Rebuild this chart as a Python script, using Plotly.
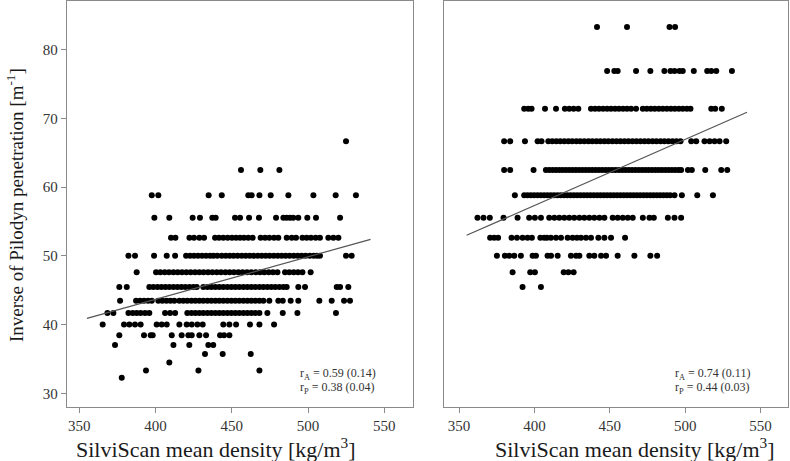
import plotly.graph_objects as go

# ---- data: inverse Pilodyn penetration levels (m^-1) ----
# Left panel rows (SilviScan density values at each level)
L_6667 = [524.9]
L_6250 = [456.0, 468.7, 481.2]
L_5882 = [397.5, 401.8, 434.8, 443.4, 460.8, 463.0, 468.1, 475.5, 487.1, 503.5, 518.1, 531.4]
L_5556 = [399.2, 409.0, 424.3, 429.1, 437.2, 439.4, 452.1, 455.4, 461.3, 467.8, 479.0, 483.8, 486.0,
          488.2, 490.3, 493.6, 499.5, 505.2, 521.0]
L_5263 = [410.1, 413.0, 422.2, 425.2, 428.7, 431.8, 439.0, 441.6, 444.4, 447.3, 450.1, 452.8, 455.4,
          458.0, 460.8, 463.7, 468.9, 471.8, 474.6, 477.7, 480.5, 486.0, 489.3, 492.1, 496.3, 499.1,
          501.9, 505.0, 507.8, 513.3, 516.6, 519.9]
L_5000 = [382.2, 386.5, 399.0, 407.3, 412.8, 420.0, 422.6, 425.2, 427.8, 430.5, 433.1, 435.7, 437.9,
          440.5, 443.4, 446.0, 448.6, 451.2, 453.8, 456.5, 459.1, 461.7, 464.3, 467.0, 469.6, 472.2,
          474.8, 477.5, 480.1, 482.7, 485.3, 487.9, 490.6, 493.2, 495.8, 498.4, 501.1, 503.7, 505.9,
          507.8, 524.9, 528.6]
L_4762 = [387.6, 400.3, 403.1, 406.0, 408.8, 411.7, 414.5, 417.3, 420.2, 423.0, 425.9, 428.7, 431.5,
          434.4, 437.2, 440.1, 442.9, 445.8, 448.6, 451.4, 454.3, 457.1, 460.0, 462.8, 465.7, 468.5,
          471.3, 474.2, 477.0, 479.9, 484.9, 487.7, 490.6, 493.4, 496.3, 501.7]
L_4545 = [376.2, 381.1, 395.9, 398.5, 401.2, 403.8, 406.4, 409.0, 411.7, 414.3, 416.9, 419.5, 422.2,
          424.8, 427.0, 431.3, 434.0, 436.6, 439.2, 441.8, 444.4, 447.1, 449.7, 452.3, 454.9, 457.6,
          460.2, 462.8, 465.4, 468.1, 470.7, 473.3, 475.9, 478.5, 481.2, 483.8, 486.0, 493.6, 498.0,
          518.8, 521.0, 526.4]
L_4348 = [376.7, 387.2, 389.8, 392.4, 395.0, 397.5, 401.8, 404.4, 407.1, 409.7, 412.3, 415.6, 418.2,
          420.8, 423.5, 426.1, 428.7, 431.3, 434.0, 436.6, 439.2, 441.8, 444.4, 447.1, 449.7, 452.3,
          454.9, 457.6, 460.2, 462.8, 465.4, 468.1, 470.7, 474.6, 480.5, 483.4, 488.6, 493.6, 507.4,
          515.5, 523.6, 527.5]
L_4167 = [368.4, 372.3, 382.2, 385.0, 387.6, 390.2, 393.1, 395.9, 406.2, 409.5, 412.8, 420.8, 423.5,
          426.1, 428.7, 431.3, 434.0, 436.6, 439.2, 441.8, 444.4, 447.1, 449.7, 452.3, 454.9, 457.6,
          460.2, 462.8, 465.4, 468.1, 473.3, 483.4, 493.0, 518.3]
L_4000 = [365.3, 379.3, 382.8, 386.5, 390.2, 400.7, 404.0, 407.3, 415.6, 420.4, 423.7, 427.4, 430.9,
          444.4, 448.4, 452.8, 461.9, 468.1, 477.7]
L_3846 = [376.2, 392.4, 396.8, 398.1, 410.6, 417.1, 421.5, 423.7, 428.7, 433.1, 442.3, 444.9, 448.4]
L_3704 = [373.4, 411.7, 422.1, 434.6, 437.8]
L_3571 = [432.4, 444.0, 462.4]
L_3448 = [409.0]
L_3333 = [393.7, 428.1, 468.1]
L_3226 = [377.8]

# Right panel rows
R_8333 = [441.5, 461.4, 489.6, 493.3]
R_7692 = [448.2, 453.0, 455.2, 467.4, 476.9, 486.2, 490.2, 492.9, 496.2, 498.4, 505.7, 514.6, 517.3,
          520.6, 531.0]
R_7143 = [393.2, 395.9, 398.1, 407.0, 414.3, 420.2, 423.1, 426.0, 429.1, 437.5, 440.2, 442.8, 445.5,
          448.2, 450.8, 453.5, 456.1, 458.8, 461.4, 464.1, 467.4, 471.9, 474.5, 477.2, 479.8, 482.5,
          485.1, 487.8, 490.5, 493.1, 495.8, 498.4, 501.1, 503.5, 517.3, 519.9, 524.3]
R_6667 = [379.9, 383.9, 393.7, 402.1, 404.7, 409.2, 411.8, 414.5, 417.1, 419.8, 422.5, 425.1, 427.8,
          430.4, 433.1, 435.8, 438.4, 441.1, 443.7, 446.4, 449.0, 451.7, 454.4, 457.0, 459.7, 462.3,
          465.0, 467.6, 470.3, 473.0, 475.6, 478.3, 480.9, 483.6, 486.2, 488.9, 491.6, 494.2, 496.9,
          504.0, 507.3, 512.8, 516.2, 519.5, 522.8, 527.2]
R_6250 = [379.9, 383.9, 399.4, 407.6, 409.8, 412.0, 414.2, 416.4, 418.6, 420.8, 423.0, 425.2, 427.4,
          429.6, 431.8, 434.0, 436.2, 438.4, 440.6, 442.8, 445.0, 447.2, 449.4, 451.6, 453.8, 456.0,
          458.2, 460.4, 462.6, 464.8, 467.0, 469.2, 471.4, 473.6, 475.8, 478.0, 480.2, 482.4, 484.6,
          486.8, 489.0, 491.2, 493.4, 495.6, 497.3, 501.8, 504.4, 513.3, 523.9, 527.9]
R_5882 = [387.0, 393.2, 395.4, 397.6, 399.8, 402.0, 404.2, 406.4, 408.6, 410.8, 413.0, 415.2, 417.4,
          419.6, 421.8, 424.0, 426.2, 428.4, 430.6, 432.8, 435.0, 437.2, 439.4, 441.6, 443.8, 446.0,
          448.2, 450.4, 452.6, 454.8, 457.0, 459.2, 461.4, 463.6, 465.8, 468.0, 470.2, 472.4, 474.6,
          476.8, 479.0, 481.2, 483.4, 485.6, 487.8, 490.0, 492.9, 497.8, 508.0, 518.4]
R_5556 = [362.2, 366.2, 370.4, 379.5, 388.8, 396.5, 400.3, 404.3, 409.8, 413.2, 416.5, 419.8, 423.1,
          426.4, 429.8, 433.1, 436.4, 439.7, 443.1, 446.4, 451.9, 455.2, 458.6, 461.9, 465.2, 471.9,
          476.3, 479.2, 488.5, 492.9, 497.3]
R_5263 = [370.6, 373.3, 375.9, 384.8, 388.4, 392.1, 395.4, 398.3, 403.9, 406.5, 408.3, 410.9, 414.3,
          417.6, 422.0, 425.3, 428.2, 430.9, 434.2, 437.5, 442.4, 446.4, 450.8, 460.1]
R_5000 = [375.1, 380.4, 383.3, 386.6, 391.0, 398.8, 401.0, 408.7, 411.0, 415.4, 424.2, 427.6, 429.8,
          436.4, 439.7, 444.2, 447.5, 455.2, 466.3, 476.9, 481.4]
R_4762 = [385.5, 397.2, 400.3, 419.4, 422.5, 426.0]
R_4545 = [392.1, 404.3]

left_rows = [(66.67, L_6667), (62.5, L_6250), (58.82, L_5882), (55.56, L_5556), (52.63, L_5263),
             (50.0, L_5000), (47.62, L_4762), (45.45, L_4545), (43.48, L_4348), (41.67, L_4167),
             (40.0, L_4000), (38.46, L_3846), (37.04, L_3704), (35.71, L_3571), (34.48, L_3448),
             (33.33, L_3333), (32.26, L_3226)]
right_rows = [(83.33, R_8333), (76.92, R_7692), (71.43, R_7143), (66.67, R_6667), (62.5, R_6250),
              (58.82, R_5882), (55.56, R_5556), (52.63, R_5263), (50.0, R_5000), (47.62, R_4762),
              (45.45, R_4545)]

# regression line endpoints
fit_x = [355, 541]
fit_left_y = [40.9, 52.4]
fit_right_y = [53.0, 70.9]

x_ticks = [350, 400, 450, 500, 550]
y_ticks = [30, 40, 50, 60, 70, 80]

def flatten(rows):
    xs, ys = [], []
    for level, vals in rows:
        for v in vals:
            xs.append(v)
            ys.append(level)
    return xs, ys

lx, ly = flatten(left_rows)
rx, ry = flatten(right_rows)

W, H = 790, 461
FONT = "Liberation Serif"
AXC = "#8a8a8a"
TXT = "#333333"

fig = go.Figure()
mk = dict(color="black", size=6, line=dict(width=0))
fig.add_trace(go.Scatter(x=lx, y=ly, mode="markers", marker=mk, xaxis="x", yaxis="y",
                         showlegend=False, hoverinfo="skip"))
fig.add_trace(go.Scatter(x=fit_x, y=fit_left_y, mode="lines", line=dict(color="#555555", width=1.2),
                         xaxis="x", yaxis="y", showlegend=False, hoverinfo="skip"))
fig.add_trace(go.Scatter(x=rx, y=ry, mode="markers", marker=mk, xaxis="x2", yaxis="y2",
                         showlegend=False, hoverinfo="skip"))
fig.add_trace(go.Scatter(x=fit_x, y=fit_right_y, mode="lines", line=dict(color="#555555", width=1.2),
                         xaxis="x2", yaxis="y2", showlegend=False, hoverinfo="skip"))

def px(x):
    return x / W

def py(y):
    return 1 - y / H

ydom = [py(407), py(1)]
common_x = dict(showline=True, mirror=True, linecolor=AXC, linewidth=1, ticks="outside",
                ticklen=5, tickcolor=AXC, tickwidth=1, tickvals=x_ticks, showgrid=False,
                zeroline=False, tickfont=dict(family=FONT, size=15, color=TXT))
fig.update_layout(
    width=W, height=H,
    margin=dict(l=0, r=0, t=0, b=0),
    paper_bgcolor="white", plot_bgcolor="white",
    xaxis=dict(domain=[px(66.7), px(412.5)], range=[341.7, 568.5], anchor="y", **common_x),
    yaxis=dict(domain=ydom, range=[28.0, 87.1], anchor="x", showline=True, mirror=True,
               linecolor=AXC, linewidth=1, ticks="outside", ticklen=5, tickcolor=AXC,
               tickvals=y_ticks, showgrid=False, zeroline=False,
               tickfont=dict(family=FONT, size=15, color=TXT)),
    xaxis2=dict(domain=[px(444), px(787.7)], range=[340.0, 568.0], anchor="y2", **common_x),
    yaxis2=dict(domain=ydom, range=[28.0, 87.1], anchor="x2", showline=True, mirror=True,
                linecolor=AXC, linewidth=1, ticks="", showticklabels=False, showgrid=False,
                zeroline=False),
)

ann = []
xtitle_font = dict(family=FONT, size=22, color="#1a1a1a")
ytitle_font = dict(family=FONT, size=19, color="#1a1a1a")
xt = "SilviScan mean density [kg/m<sup>3</sup>]"
ann.append(dict(text=xt, x=px(216), y=py(448), xref="paper", yref="paper", showarrow=False,
                xanchor="center", yanchor="middle", font=xtitle_font))
ann.append(dict(text=xt, x=px(635), y=py(448), xref="paper", yref="paper", showarrow=False,
                xanchor="center", yanchor="middle", font=xtitle_font))
ann.append(dict(text="Inverse of Pilodyn penetration [m<sup>-1</sup>]", x=px(15), y=py(205),
                xref="paper", yref="paper", showarrow=False, textangle=-90,
                xanchor="center", yanchor="middle", font=ytitle_font))
rfont = dict(family=FONT, size=12, color=TXT)
for xpos, t1, t2 in [(298, "r<sub>A</sub> = 0.59 (0.14)", "r<sub>P</sub> = 0.38 (0.04)"),
                     (673, "r<sub>A</sub> = 0.74 (0.11)", "r<sub>P</sub> = 0.44 (0.03)")]:
    ann.append(dict(text=t1, x=px(xpos), y=py(374), xref="paper", yref="paper", showarrow=False,
                    xanchor="left", yanchor="middle", font=rfont))
    ann.append(dict(text=t2, x=px(xpos), y=py(387.5), xref="paper", yref="paper", showarrow=False,
                    xanchor="left", yanchor="middle", font=rfont))
fig.update_layout(annotations=ann)

fig.write_html("out.html", config={"displayModeBar": False},
               post_script="document.body.style.margin='0px';")
